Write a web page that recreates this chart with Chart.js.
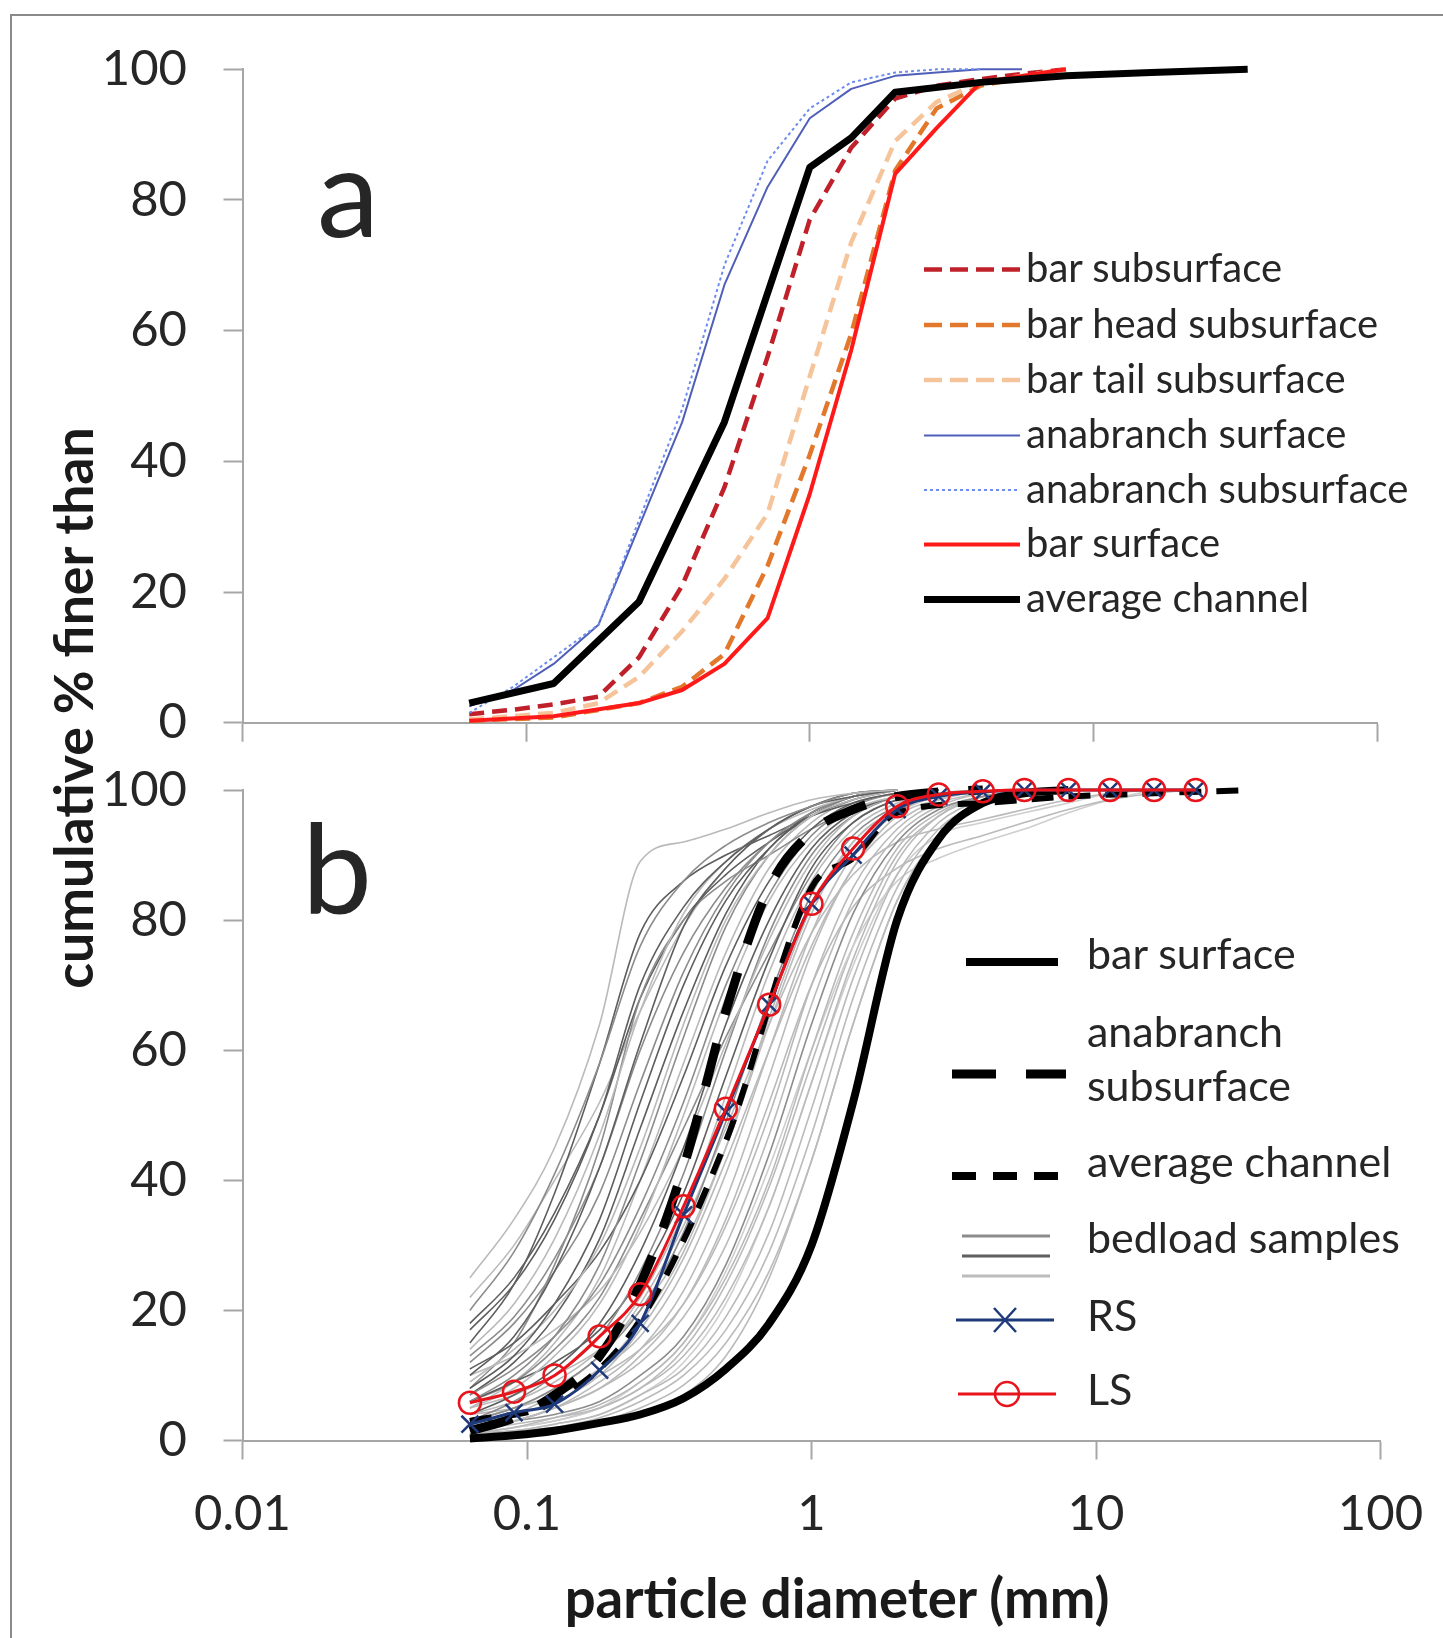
<!DOCTYPE html>
<html>
<head>
<meta charset="utf-8">
<script src="https://cdn.jsdelivr.net/npm/chart.js@4.4.1/dist/chart.umd.min.js"></script>
<style>
html,body{margin:0;padding:0;background:#fff;}
body{width:1443px;height:1638px;position:relative;overflow:hidden;font-family:Lato,"Open Sans",sans-serif;color:#262626;}
#frame{position:absolute;left:10px;top:14px;width:1500px;height:1700px;border-left:2px solid #8a8a8a;border-top:2px solid #8a8a8a;}
.wrap{position:absolute;left:0;}
.t{position:absolute;white-space:nowrap;line-height:1;}
svg{position:absolute;left:0;top:0;}
</style>
</head>
<body>
<div id="frame"></div>
<div class="wrap" style="top:0;width:1443px;height:760px;"><canvas id="cA" width="1443" height="760"></canvas></div>
<div class="wrap" style="top:740px;width:1443px;height:898px;"><canvas id="cB" width="1443" height="898"></canvas></div>
<svg id="leg" width="1443" height="1638"></svg>
<script>
// ---------- shared axis ticks ----------
const xTickValues = [0.01, 0.1, 1, 10, 100];
const xTickLabels = ['0.01', '0.1', '1', '10', '100'];

// ---------- panel a (particle diameter mm -> cumulative % finer) ----------
const avgX      = [0.063, 0.125, 0.25, 0.5, 1, 1.4, 2, 4, 8, 16, 35];
const avgY      = [3, 6, 18.5, 46, 85, 89.5, 96.5, 98, 99, 99.5, 100];
const barSurfX  = [0.063, 0.125, 0.25, 0.355, 0.5, 0.71, 1, 1.4, 2, 2.8, 4, 8];
const barSurfY  = [0.3, 1, 3, 5, 9, 16, 35, 57, 84, 91, 98, 100];
const anaSurfX  = [0.063, 0.09, 0.125, 0.18, 0.25, 0.355, 0.5, 0.71, 1, 1.4, 2, 2.8, 4, 5.6];
const anaSurfY  = [2.5, 5, 9, 15, 30, 46, 67, 82, 92.5, 97, 99, 99.5, 100, 100];
const anaSubX   = [0.063, 0.09, 0.125, 0.18, 0.25, 0.355, 0.5, 0.71, 1, 1.4, 2, 2.8, 4];
const anaSubY   = [1.5, 5.5, 10, 15, 31, 48, 70, 86, 94, 98, 99.5, 100, 100];
const barTailX  = [0.063, 0.125, 0.18, 0.25, 0.355, 0.5, 0.71, 1, 1.4, 2, 2.8, 4, 8];
const barTailY  = [0.5, 1.5, 3, 7, 14, 22, 32, 53, 73.5, 89, 95, 98, 100];
const barHeadX  = [0.063, 0.125, 0.25, 0.355, 0.5, 0.71, 1, 1.4, 2, 2.8, 4, 8];
const barHeadY  = [0.3, 0.8, 3, 5.5, 10.5, 24, 41, 59.5, 84.5, 94, 97.5, 100];
const barSubX   = [0.063, 0.09, 0.125, 0.18, 0.25, 0.355, 0.5, 0.71, 1, 1.4, 2, 2.8, 4, 5.6, 8];
const barSubY   = [1.3, 2, 2.8, 4, 10, 21, 36, 56, 77, 88, 95.5, 97.5, 98.5, 99.3, 100];

// ---------- panel b ----------
const sieveB     = [0.063, 0.09, 0.125, 0.18, 0.25, 0.355, 0.5, 0.71, 1, 1.4, 2, 2.8, 4, 5.6, 8, 11.2, 16, 22.4];
const barSurfBY  = [0.3, 0.8, 1.5, 2.7, 4, 6.5, 11, 18, 30, 52, 80, 92.5, 98, 99.5, 100];
const anaSubBY   = [1.5, 3.5, 7, 13, 24, 42, 66, 85, 93.5, 97, 99, 99.7, 100];
const rsY        = [2.5, 4.3, 5.6, 10.8, 18, 34.7, 50.5, 67, 82.5, 90, 97, 99, 99.7, 100, 100, 100, 100, 100];
const lsY        = [5.8, 7.5, 10, 16, 22.5, 36, 51, 67, 82.5, 91, 97.5, 99.3, 99.8, 100, 100, 100, 100, 100];

// bedload samples (values at sieveB sizes, until 100 %)
const b01 = [25, 34, 45, 64, 89, 92, 94, 96.5, 98.5, 99.5, 100];
const b02 = [20, 29, 41, 58, 76, 86, 91.5, 95, 97.5, 99.5, 100];
const b03 = [17, 24, 34, 50, 70, 82, 89, 94, 97.5, 99, 100];
const b04 = [14, 21, 31, 47, 66, 81, 89, 94, 97, 99, 100];
const b05 = [10, 16, 26, 42, 61, 79, 88, 94, 97.5, 99.5, 100];
const b06 = [12, 18, 26, 38, 55, 72, 84, 92, 96.5, 99, 100];
const b07 = [8, 13, 21, 34, 52, 70, 83, 91, 96.5, 99, 100];
const b08 = [9, 14, 20, 30, 45, 64, 80, 90, 96, 98.5, 100];
const b09 = [6, 10, 16, 27, 43, 62, 79, 90, 96, 99, 100];
const b10 = [11, 15, 21, 29, 40, 56, 73, 86, 94, 98, 99.5, 100];
const b11 = [7, 11, 16, 24, 36, 52, 70, 84, 93, 97.5, 99.5, 100];
const b12 = [5, 8, 13, 21, 33, 50, 68, 83, 92, 97, 99, 100];
const b13 = [4, 7, 11, 18, 29, 45, 64, 80, 91, 96.5, 99, 100];
const b14 = [10, 13, 17, 23, 32, 45, 61, 77, 89, 96, 99, 100];
const b15 = [3, 6, 10, 16, 26, 41, 60, 78, 90, 96, 99, 100];
const b16 = [6, 9, 12, 17, 25, 38, 56, 74, 88, 95, 98.5, 100];
const b17 = [4, 6, 9, 14, 22, 35, 53, 72, 86, 94, 98, 100];
const b18 = [3, 5, 8, 13, 20, 32, 49, 68, 84, 93, 97.5, 99.5, 100];
const b19 = [5, 7, 10, 14, 20, 30, 45, 64, 81, 92, 97, 99, 100];
const b20 = [2, 4, 7, 11, 18, 29, 45, 65, 82, 92, 97, 99, 100];
const b21 = [3, 5, 7, 11, 16, 26, 41, 60, 78, 90, 96.5, 99, 100];
const b22 = [2, 3, 5, 9, 14, 23, 37, 56, 75, 88, 96, 98.5, 100];
const b23 = [4, 5, 7, 10, 14, 21, 33, 50, 70, 85, 94, 98, 99.5, 100];
const b24 = [1.5, 3, 5, 8, 12, 19, 30, 47, 67, 83, 93, 97.5, 99.5, 100];
const b25 = [2, 3, 4, 6, 10, 16, 27, 44, 64, 81, 92, 97, 99, 100];
const b26 = [1, 2, 3.5, 5.5, 9, 15, 25, 40, 60, 78, 91, 96.5, 99, 100];
const b27 = [1.5, 2.5, 3.5, 5, 8, 13, 22, 36, 55, 74, 89, 96, 99, 100];
const b28 = [1, 1.5, 2.5, 4, 7, 11, 19, 32, 51, 71, 87, 95, 98.5, 100];
const b29 = [0.5, 1, 2, 3.5, 6, 10, 17, 29, 47, 68, 85, 94, 98, 99.5, 100];
const b30 = [1, 1.5, 2, 3, 5, 8.5, 15, 26, 43, 64, 83, 93, 98, 99.5, 100];
const b31 = [2, 3, 5, 8, 13, 21, 34, 52, 70, 82, 88, 91, 93, 95, 97, 98.5, 99.5, 100];
const b32 = [1, 2, 3, 5, 9, 15, 26, 42, 60, 76, 86, 89.5, 92, 94, 96.5, 98.5, 100];
const b33 = [3, 5, 8, 13, 21, 33, 48, 64, 78, 87, 92, 94, 95.5, 97, 98.5, 99.5, 100];
const b34 = [1, 1.5, 2.5, 4, 7, 12, 21, 36, 55, 73, 87, 93, 95, 96.5, 98, 99.5, 100];
const b35 = [15, 24, 38, 58, 78, 86, 90, 93, 96, 98, 99.5, 100];
const b36 = [8, 15, 27, 45, 68, 80, 86, 90, 94, 97, 99, 100];
const b37 = [6, 9, 14, 22, 34, 48, 62, 75, 87, 95, 98.5, 100];
const b38 = [2.5, 4, 6, 10, 17, 28, 43, 60, 76, 88, 95, 98.5, 100];
const b39 = [1, 2, 3, 5, 8, 14, 24, 39, 58, 76, 90, 96, 99, 100];
const b40 = [0.5, 1, 1.5, 2.5, 4, 7, 13, 25, 43, 64, 83, 93, 97.5, 99.5, 100];
const b41 = [18, 25, 35, 50, 68, 80, 87, 92, 96, 98.5, 100];
const b42 = [13, 19, 28, 42, 60, 75, 85, 92, 96.5, 99, 100];
const b43 = [22, 30, 40, 52, 66, 79, 88, 94, 97.5, 99.5, 100];
const b44 = [7, 12, 19, 31, 48, 66, 81, 91, 96, 99, 100];
const b45 = [5, 9, 15, 25, 40, 58, 75, 88, 95, 98.5, 100];
const bedloadSamples = [b01,b02,b03,b04,b05,b06,b07,b08,b09,b10,b11,b12,b13,b14,b15,b16,b17,b18,b19,b20,
  b21,b22,b23,b24,b25,b26,b27,b28,b29,b30,b31,b32,b33,b34,b35,b36,b37,b38,b39,b40,b41,b42,b43,b44,b45];

// ---------- styles ----------
const G1='#5e5e5e', G2='#8c8c8c', G3='#bababa', G4='#cecece';
const bedloadColors = [G3,G2,G1,G3,G1,G2,G1,G3,G2,G1,G2,G3,G1,G3,G2,G1,G3,G2,G3,G3,
  G3,G3,G3,G3,G2,G3,G3,G3,G3,G3,G3,G4,G3,G4,G1,G2,G2,G3,G3,G3,G1,G2,G3,G1,G3];

const AXIS = '#a6a6a6', TXT = '#262626';
const FONT = 'Lato, "Open Sans", sans-serif';

function pts(xs, ys) { return ys.map((y, i) => ({ x: xs[i], y: y })); }

function xScale(showLabels, height) {
  return {
    type: 'logarithmic', min: 0.01, max: 100, position: 'bottom',
    afterBuildTicks: (a) => { a.ticks = xTickValues.map(v => ({ value: v })); },
    afterFit: (a) => { a.height = height; a.paddingLeft = 0; a.paddingRight = 0; },
    grid: { display: true, drawOnChartArea: false, drawTicks: true, tickLength: 19, tickColor: AXIS, tickWidth: 2 },
    border: { display: true, color: AXIS, width: 2 },
    ticks: { display: showLabels, autoSkip: false, maxRotation: 0, padding: 25,
      font: { family: FONT, size: 49 }, color: TXT,
      callback: (v, i) => xTickLabels[i] }
  };
}
function yScale() {
  return {
    min: 0, max: 100,
    afterFit: (a) => { a.width = 242.5; a.paddingTop = 0; a.paddingBottom = 0; },
    grid: { display: true, drawOnChartArea: false, drawTicks: true, tickLength: 19, tickColor: AXIS, tickWidth: 2 },
    border: { display: true, color: AXIS, width: 2 },
    ticks: { stepSize: 20, padding: 36.5, font: { family: FONT, size: 49 }, color: TXT }
  };
}
const base = { pointRadius: 0, fill: false, clip: false, borderJoinStyle: 'round' };

// ---------- chart a ----------
new Chart(document.getElementById('cA'), {
  type: 'line',
  data: { datasets: [
    Object.assign({ label: 'average channel', data: pts(avgX, avgY), borderColor: '#000', borderWidth: 7, order: 0, tension: 0 }, base),
    Object.assign({ label: 'bar surface', data: pts(barSurfX, barSurfY), borderColor: '#ff1a1a', borderWidth: 4, order: 1, tension: 0 }, base),
    Object.assign({ label: 'anabranch subsurface', data: pts(anaSubX, anaSubY), borderColor: '#6d8cf0', borderWidth: 2, borderDash: [3, 3], order: 2, tension: 0 }, base),
    Object.assign({ label: 'anabranch surface', data: pts(anaSurfX, anaSurfY), borderColor: '#4f5fb8', borderWidth: 2, order: 3, tension: 0 }, base),
    Object.assign({ label: 'bar tail subsurface', data: pts(barTailX, barTailY), borderColor: '#f6c49a', borderWidth: 4.5, borderDash: [15, 8], order: 4, tension: 0 }, base),
    Object.assign({ label: 'bar head subsurface', data: pts(barHeadX, barHeadY), borderColor: '#e2782c', borderWidth: 4.5, borderDash: [15, 8], order: 5, tension: 0 }, base),
    Object.assign({ label: 'bar subsurface', data: pts(barSubX, barSubY), borderColor: '#c0202a', borderWidth: 4.5, borderDash: [15, 8], order: 6, tension: 0 }, base)
  ]},
  options: {
    responsive: false, animation: false, events: [],
    layout: { padding: { left: 0, right: 66, top: 69.3, bottom: 0 } },
    plugins: { legend: { display: false }, tooltip: { enabled: false } },
    scales: { x: xScale(false, 37.3), y: yScale() }
  }
});

// ---------- chart b ----------
const bSets = bedloadSamples.map((arr, i) => Object.assign({
  label: 'bedload samples', data: pts(sieveB, arr), borderColor: bedloadColors[i], borderWidth: 1.6,
  order: 20, cubicInterpolationMode: 'monotone' }, base));
bSets.push(Object.assign({ label: 'bar surface', data: pts(sieveB, barSurfBY), borderColor: '#000', borderWidth: 8, order: 6, cubicInterpolationMode: 'monotone' }, base));
bSets.push(Object.assign({ label: 'anabranch subsurface', data: pts(sieveB, anaSubBY), borderColor: '#000', borderWidth: 9, borderDash: [44, 30], order: 5, cubicInterpolationMode: 'monotone' }, base));
bSets.push(Object.assign({ label: 'average channel', data: pts(avgX, avgY), borderColor: '#000', borderWidth: 6, borderDash: [22, 15], order: 4, cubicInterpolationMode: 'monotone' }, base));
bSets.push(Object.assign({}, base, { label: 'RS', data: pts(sieveB, rsY), borderColor: '#1f3a7a', borderWidth: 3, order: 3,
  cubicInterpolationMode: 'monotone', pointStyle: 'crossRot', pointRadius: 12, pointBorderColor: '#1f3a7a', pointBorderWidth: 2.5 }));
bSets.push(Object.assign({}, base, { label: 'LS', data: pts(sieveB, lsY), borderColor: '#e8141c', borderWidth: 3, order: 2,
  cubicInterpolationMode: 'monotone', pointStyle: 'circle', pointRadius: 11, pointBorderColor: '#e8141c', pointBorderWidth: 2.5,
  pointBackgroundColor: 'rgba(0,0,0,0)' }));

new Chart(document.getElementById('cB'), {
  type: 'line',
  data: { datasets: bSets },
  options: {
    responsive: false, animation: false, events: [],
    layout: { padding: { left: 0, right: 62.5, top: 50, bottom: 0 } },
    plugins: { legend: { display: false }, tooltip: { enabled: false } },
    scales: { x: xScale(true, 197.5), y: yScale() }
  }
});

// ---------- text & legends (HTML/SVG) ----------
function addText(txt, left, cy, size, extra) {
  const d = document.createElement('div');
  d.className = 't'; d.textContent = txt;
  d.style.left = left + 'px'; d.style.top = (cy - 0.527 * size) + 'px'; d.style.fontSize = size + 'px';
  if (extra) Object.assign(d.style, extra);
  document.body.appendChild(d);
  return d;
}
const NS = 'http://www.w3.org/2000/svg';
const svg = document.getElementById('leg');
function ln(x1, y1, x2, y2, color, w, dash) {
  const l = document.createElementNS(NS, 'line');
  l.setAttribute('x1', x1); l.setAttribute('y1', y1); l.setAttribute('x2', x2); l.setAttribute('y2', y2);
  l.setAttribute('stroke', color); l.setAttribute('stroke-width', w);
  if (dash) l.setAttribute('stroke-dasharray', dash);
  svg.appendChild(l);
}
function circ(cx, cy, r, color, w) {
  const c = document.createElementNS(NS, 'circle');
  c.setAttribute('cx', cx); c.setAttribute('cy', cy); c.setAttribute('r', r);
  c.setAttribute('fill', 'none'); c.setAttribute('stroke', color); c.setAttribute('stroke-width', w);
  svg.appendChild(c);
}

// panel a legend
const legA = [
  ['bar subsurface', '#c0202a', 4.5, '18 8'],
  ['bar head subsurface', '#e2782c', 4.5, '18 8'],
  ['bar tail subsurface', '#f6c49a', 4.5, '18 8'],
  ['anabranch surface', '#4f5fb8', 2, null],
  ['anabranch subsurface', '#6d8cf0', 2, '3 3'],
  ['bar surface', '#ff1a1a', 4, null],
  ['average channel', '#000', 7, null]
];
const rowsA = [268.5, 324, 379, 434.5, 489, 543.5, 598.5];
legA.forEach((e, i) => {
  ln(924, rowsA[i] + 1, 1020, rowsA[i] + 1, e[1], e[2], e[3]);
  addText(e[0], 1026, rowsA[i], 40);
});

// panel b legend
ln(966, 962, 1058, 962, '#000', 8);
addText('bar surface', 1087, 954, 43);
ln(952, 1074, 1066, 1074, '#000', 9, '44 30');
addText('anabranch', 1087, 1032, 43);
addText('subsurface', 1087, 1086, 43);
ln(952, 1176, 1066, 1176, '#000', 8, '24 17');
addText('average channel', 1087, 1162, 43);
ln(962, 1236, 1050, 1236, '#8c8c8c', 3);
ln(962, 1256, 1050, 1256, '#5f5f5f', 3);
ln(962, 1276, 1050, 1276, '#bcbcbc', 3);
addText('bedload samples', 1087, 1238, 43);
ln(956, 1320, 1054, 1320, '#1f3a7a', 3);
ln(994, 1308, 1016, 1332, '#1f3a7a', 2.5);
ln(994, 1332, 1016, 1308, '#1f3a7a', 2.5);
addText('RS', 1087, 1316, 43);
ln(958, 1394, 1056, 1394, '#e8141c', 3);
circ(1007, 1394, 12, '#e8141c', 2.5);
addText('LS', 1087, 1390, 43);

// panel labels
addText('a', 317, 238 - 0.36 * 125, 125);
addText('b', 302, 914 - 0.36 * 125, 125);

// axis titles
const yt = addText('cumulative % finer than', 73, 708, 53.5, { fontWeight: '700', color: '#1a1a1a' });
yt.style.top = '708px'; yt.style.left = '73px';
yt.style.transform = 'translate(-50%,-50%) rotate(-90deg)';
const xt = addText('particle diameter (mm)', 837, 1618 - 0.36 * 54.5, 54.5, { fontWeight: '700', color: '#1a1a1a' });
xt.style.transform = 'translateX(-50%)';
</script>
</body>
</html>
